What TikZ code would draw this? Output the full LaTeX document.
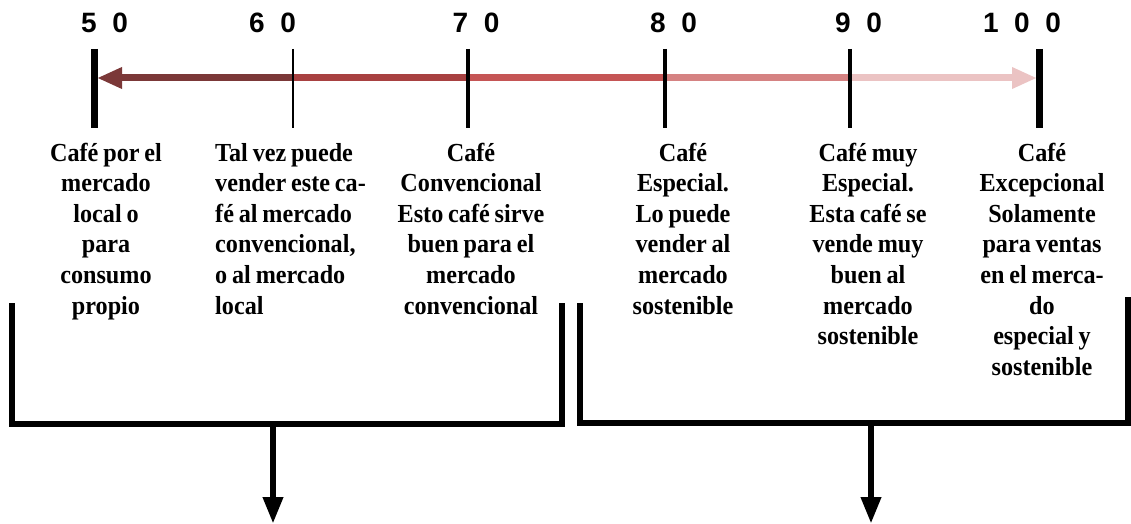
\documentclass[tikz,border=0pt]{standalone}
\usepackage{fontspec}
\setmainfont[FakeStretch=0.93,WordSpace=0.8]{Liberation Serif}
\newfontfamily\numfont[WordSpace=2]{Liberation Sans}
\usepackage{tikz}
\usetikzlibrary{arrows,arrows.meta,shapes,positioning}

\definecolor{segA}{RGB}{123,56,56}
\definecolor{segB}{RGB}{168,65,65}
\definecolor{segC}{RGB}{197,85,85}
\definecolor{segD}{RGB}{213,130,130}
\definecolor{segE}{RGB}{235,195,195}

\tikzset{
	num/.style={anchor=base, inner sep=0pt, font=\numfont\bfseries\fontsize{28}{30}\selectfont},
	desc/.style={anchor=base, inner sep=0pt, align=center, font=\bfseries\fontsize{26}{30.6}\selectfont},
	scale line/.style={line width=7pt},
	bracket/.style={line width=6.5pt, line join=miter},
	down arrow/.style={line width=6.5pt, -{Triangle[width=19pt,length=27pt]}}
}

\begin{document}
\begin{tikzpicture}[x=1pt,y=-1pt]
				\useasboundingbox (0,0) rectangle (1131,524);
				
				\coordinate (p50) at (94,78);
				\coordinate (p60) at (293,78);
				\coordinate (p70) at (468,78);
				\coordinate (p80) at (665,78);
				\coordinate (p90) at (850,78);
				\coordinate (p100) at (1039,78);
				\coordinate (tipL) at (97,78);
				\coordinate (tipR) at (1037,78);
				
				\draw [scale line, segA, -{Triangle[width=20pt,length=25pt]}] (p60) -- (tipL);
				\draw [scale line, segB] (p60) -- (p70);
				\draw [scale line, segC] (p70) -- (p80);
				\draw [scale line, segD] (p80) -- (p90);
				\draw [scale line, segE, -{Triangle[width=20pt,length=25pt]}] (p90) -- (tipR);
				
				\draw [line width=7pt] (94,49) -- (94,128);
				\draw [line width=2pt] (293,49) -- (293,128);
				\draw [line width=3.5pt] (468,49) -- (468,128);
				\draw [line width=3.5pt] (665,49) -- (665,128);
				\draw [line width=3.5pt] (850,49) -- (850,128);
				\draw [line width=7pt] (1039,49) -- (1039,128);
				
				\node [num] (n50) at (104.5,33) {5 0};
				\node [num] (n60) at (272.5,33) {6 0};
				\node [num] (n70) at (476,33) {7 0};
				\node [num] (n80) at (673.5,33) {8 0};
				\node [num] (n90) at (858.5,33) {9 0};
				\node [num] (n100) at (1022,33) {1 0 0};
				
				% % % % % % % % % % % % % % % % % % % % % % % % % %
				% base = last line, first line sits at y=161
				
				\node [desc] (c1) at (106,314) {Café por el\\mercado\\local o\\para\\consumo\\propio};
				\node [desc, align=left, anchor=base west] (c2) at (215,314) {Tal vez puede\\vender este ca-\\fé al mercado\\convencional,\\o al mercado\\local};
				\node [desc] (c3) at (471,314) {Café\\Convencional\\Esto café sirve\\buen para el\\mercado\\convencional};
				\node [desc] (c4) at (683,314) {Café\\Especial.\\Lo puede\\vender al\\mercado\\sostenible};
				\node [desc] (c5) at (868,344.6) {Café muy\\Especial.\\Esta café se\\vende muy\\buen al\\mercado\\sostenible};
				\node [desc] (c6) at (1042,375.2) {Café\\Excepcional\\Solamente\\para ventas\\en el merca-\\do\\especial y\\sostenible};
				
				% % % % % % % % % % % % % % % % % % % % % % % % % %
				
				\coordinate (lowA) at (273,424);
				\coordinate (endA) at (273,524);
				\coordinate (lowB) at (871,423);
				\coordinate (endB) at (871,524);
				
				\draw [bracket] (12,303) -- (12,424) -- (562,424) -- (562,303);
				\draw [bracket] (580,303) -- (580,423) -- (1128,423) -- (1128,297);
				
				\draw [down arrow] (lowA) -- (endA);
				\draw [down arrow] (lowB) -- (endB);
\end{tikzpicture}
\end{document}
